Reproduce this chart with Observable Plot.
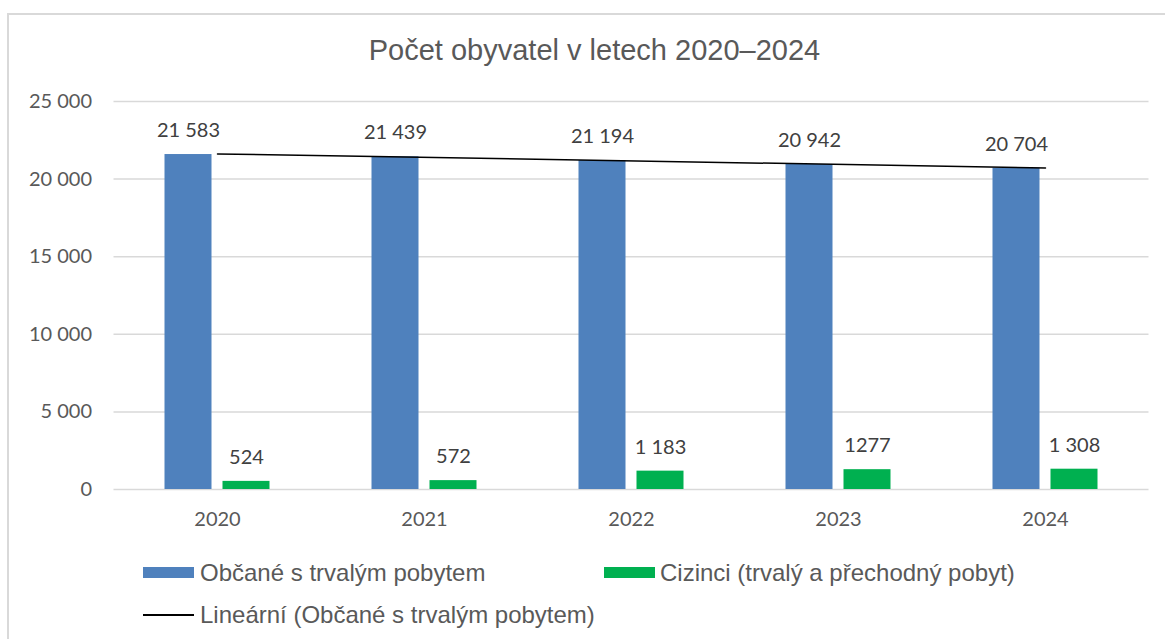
<!DOCTYPE html>
<html><head><meta charset="utf-8">
<script src="https://cdn.jsdelivr.net/npm/d3@7"></script>
<script src="https://cdn.jsdelivr.net/npm/@observablehq/plot@0.6"></script>
<style>
body{margin:0;background:#fff;width:1165px;height:639px;overflow:hidden;position:relative;font-family:"Liberation Sans",Arial,sans-serif}
#frame{position:absolute;left:7px;top:13px;width:1200px;height:700px;border-top:2px solid #d9d9d9;border-left:2px solid #d9d9d9}
#title{position:absolute;left:0;top:35.5px;width:1189px;text-align:center;font-size:29px;line-height:29px;color:#595959;white-space:nowrap}
.layer{position:absolute;left:0;top:80px}
.layer svg{background:transparent;display:block}
.leg{position:absolute;font-size:24px;line-height:24px;color:#595959;white-space:nowrap}
.sw{position:absolute}
</style></head><body>
<div id="frame"></div>
<div id="title">Počet obyvatel v letech 2020–2024</div>
<div id="bg" class="layer"></div>
<div id="main" class="layer"></div>
<div id="fg" class="layer" style="pointer-events:none"></div>
<div id="legend"></div>
<script>
const years = ["2020", "2021", "2022", "2023", "2024"];
const citizens = [21583, 21439, 21194, 20942, 20704];
const foreigners = [524, 572, 1183, 1277, 1308];
const citizenLabels = ["21 583", "21 439", "21 194", "20 942", "20 704"];
const foreignerLabels = ["524", "572", "1 183", "1277", "1 308"];
const seriesNames = ["Občané s trvalým pobytem", "Cizinci (trvalý a přechodný pobyt)"];
const trendName = "Lineární (Občané s trvalým pobytem)";
const seriesColors = ["#4F81BD", "#00B050"];
const yTicks = [0, 5000, 10000, 15000, 20000, 25000];

const rows = [];
years.forEach((y, i) => {
  rows.push({year: y, series: seriesNames[0], value: citizens[i], label: citizenLabels[i]});
  rows.push({year: y, series: seriesNames[1], value: foreigners[i], label: foreignerLabels[i]});
});
const trendRows = years.map((y, i) => ({year: +y, value: citizens[i]}));

const W = 1165, H = 470, mL = 113.5, mR = 16.5, mT = 21, mB = 61;
const common = {width: W, height: H, marginLeft: mL, marginRight: mR, marginTop: mT, marginBottom: mB};
const fmt = d => d3.format(",")(d).replace(/,/g, " ");
const style = {fontFamily: "Lato, sans-serif", fontSize: "20px", color: "#595959", background: "transparent", overflow: "visible"};

const bg = Plot.plot({
  ...common,
  y: {domain: [0, 25000]},
  style,
  marks: [
    Plot.ruleY(yTicks, {stroke: "#d9d9d9", strokeWidth: 1.5}),
    Plot.axisY({ticks: yTicks, tickSize: 0, tickPadding: 22, tickFormat: fmt, label: null, fontSize: 20})
  ]
});
document.getElementById("bg").append(bg);

const main = Plot.plot({
  ...common,
  fx: {domain: years, paddingInner: 0.44, paddingOuter: 0.22, label: null},
  x: {domain: seriesNames, paddingInner: 0.19, paddingOuter: 0.09, axis: null},
  y: {domain: [0, 25000], axis: null},
  color: {domain: seriesNames, range: seriesColors},
  style,
  marks: [
    Plot.barY(rows, {fx: "year", x: "series", y: "value", fill: "series"}),
    Plot.text(rows, {fx: "year", x: "series", y: "value", text: "label", dy: -24, fill: "#404040", fontSize: 20}),
    Plot.axisFx({anchor: "bottom", tickSize: 0, tickPadding: 22, label: null, fontSize: 20})
  ]
});
document.getElementById("main").append(main);

const fg = Plot.plot({
  ...common,
  x: {domain: [2019.5, 2024.5], axis: null},
  y: {domain: [0, 25000], axis: null},
  style,
  marks: [
    Plot.linearRegressionY(trendRows, {x: "year", y: "value", stroke: "#000", strokeWidth: 1.5, ci: 0})
  ]
});
document.getElementById("fg").append(fg);

// Legend
const legend = document.getElementById("legend");
const items = [
  {name: seriesNames[0], color: seriesColors[0], type: "box", sx: 143, tx: 200, top: 560.7},
  {name: seriesNames[1], color: seriesColors[1], type: "box", sx: 604, tx: 660, top: 560.7},
  {name: trendName, color: "#000", type: "line", sx: 143, tx: 200, top: 602.7}
];
for (const it of items) {
  const sw = document.createElement("div");
  sw.className = "sw";
  sw.style.left = it.sx + "px";
  sw.style.width = "51px";
  sw.style.background = it.color;
  if (it.type === "box") { sw.style.top = (it.top + 6.3) + "px"; sw.style.height = "11px"; }
  else { sw.style.top = (it.top + 11.3) + "px"; sw.style.height = "2px"; }
  legend.append(sw);
  const t = document.createElement("div");
  t.className = "leg";
  t.style.left = it.tx + "px";
  t.style.top = it.top + "px";
  t.textContent = it.name;
  legend.append(t);
}
</script>
</body></html>
